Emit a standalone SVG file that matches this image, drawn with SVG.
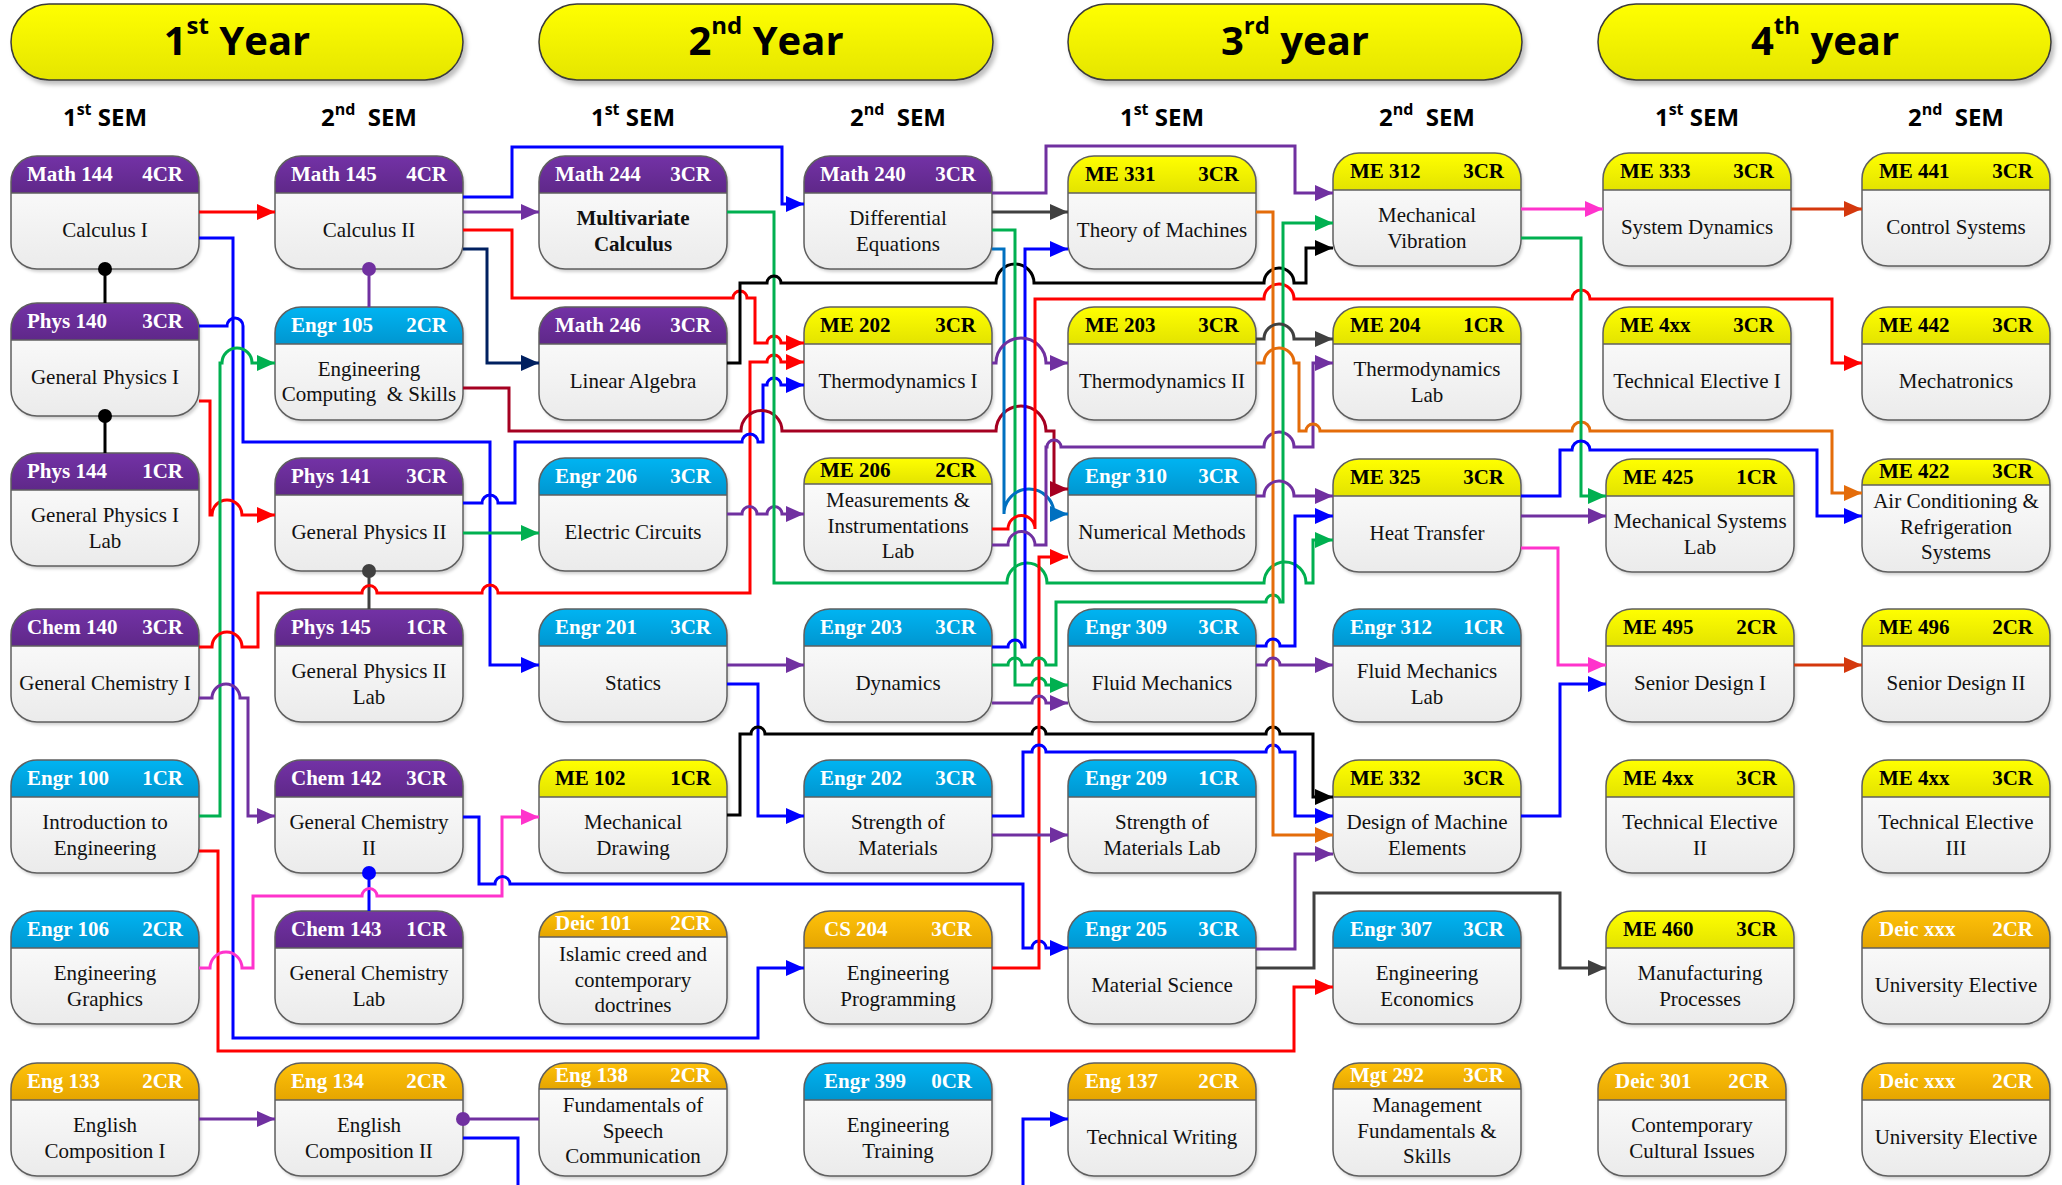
<svg xmlns="http://www.w3.org/2000/svg" xmlns:xlink="http://www.w3.org/1999/xlink" width="2062" height="1185" viewBox="0 0 2062 1185">
<defs>
<linearGradient id="gB" x1="0" y1="0" x2="0" y2="1"><stop offset="0" stop-color="#ffffff"/><stop offset="1" stop-color="#ebebeb"/></linearGradient>
<linearGradient id="gP" x1="0" y1="0" x2="0" y2="1"><stop offset="0" stop-color="#7332a6"/><stop offset="1" stop-color="#5f2889"/></linearGradient>
<linearGradient id="gC" x1="0" y1="0" x2="0" y2="1"><stop offset="0" stop-color="#00b4f2"/><stop offset="1" stop-color="#0096d0"/></linearGradient>
<linearGradient id="gY" x1="0" y1="0" x2="0" y2="1"><stop offset="0" stop-color="#ffff00"/><stop offset="1" stop-color="#e3e300"/></linearGradient>
<linearGradient id="gO" x1="0" y1="0" x2="0" y2="1"><stop offset="0" stop-color="#ffc20a"/><stop offset="1" stop-color="#e5a500"/></linearGradient>
<linearGradient id="gPill" x1="0" y1="0" x2="0" y2="1"><stop offset="0" stop-color="#ffff00"/><stop offset="1" stop-color="#e5e500"/></linearGradient>
<filter id="shP" x="-5%" y="-20%" width="110%" height="150%"><feDropShadow dx="3" dy="4" stdDeviation="2" flood-color="#000" flood-opacity="0.25"/></filter>
<filter id="shN" x="-10%" y="-10%" width="120%" height="130%"><feDropShadow dx="2" dy="3" stdDeviation="1.5" flood-color="#000" flood-opacity="0.18"/></filter>
<rect id="bx" width="188" height="113" rx="26"/>
<path id="hd" d="M0,37V26A26,26 0 0 1 26,0H162A26,26 0 0 1 188,26V37Z"/>
<path id="hs" d="M0,26A26,26 0 0 1 26,0H162A26,26 0 0 1 188,26Z"/>
<line id="sp" x1="0" y1="37" x2="188" y2="37"/>
<line id="ss" x1="0" y1="26" x2="188" y2="26"/>
<marker id="mR" viewBox="0 0 18 18" refX="18" refY="9" markerWidth="18" markerHeight="18" markerUnits="userSpaceOnUse" orient="auto"><path d="M0,1L18,9L0,17Z" fill="#ff0000"/></marker>
<marker id="mB" viewBox="0 0 18 18" refX="18" refY="9" markerWidth="18" markerHeight="18" markerUnits="userSpaceOnUse" orient="auto"><path d="M0,1L18,9L0,17Z" fill="#0000ff"/></marker>
<marker id="mP" viewBox="0 0 18 18" refX="18" refY="9" markerWidth="18" markerHeight="18" markerUnits="userSpaceOnUse" orient="auto"><path d="M0,1L18,9L0,17Z" fill="#7030a0"/></marker>
<marker id="mG" viewBox="0 0 18 18" refX="18" refY="9" markerWidth="18" markerHeight="18" markerUnits="userSpaceOnUse" orient="auto"><path d="M0,1L18,9L0,17Z" fill="#00b050"/></marker>
<marker id="mN" viewBox="0 0 18 18" refX="18" refY="9" markerWidth="18" markerHeight="18" markerUnits="userSpaceOnUse" orient="auto"><path d="M0,1L18,9L0,17Z" fill="#002060"/></marker>
<marker id="mCr" viewBox="0 0 18 18" refX="18" refY="9" markerWidth="18" markerHeight="18" markerUnits="userSpaceOnUse" orient="auto"><path d="M0,1L18,9L0,17Z" fill="#a50021"/></marker>
<marker id="mS" viewBox="0 0 18 18" refX="18" refY="9" markerWidth="18" markerHeight="18" markerUnits="userSpaceOnUse" orient="auto"><path d="M0,1L18,9L0,17Z" fill="#0070c0"/></marker>
<marker id="mO" viewBox="0 0 18 18" refX="18" refY="9" markerWidth="18" markerHeight="18" markerUnits="userSpaceOnUse" orient="auto"><path d="M0,1L18,9L0,17Z" fill="#e46c0a"/></marker>
<marker id="mK" viewBox="0 0 18 18" refX="18" refY="9" markerWidth="18" markerHeight="18" markerUnits="userSpaceOnUse" orient="auto"><path d="M0,1L18,9L0,17Z" fill="#ff33cc"/></marker>
<marker id="mRu" viewBox="0 0 18 18" refX="18" refY="9" markerWidth="18" markerHeight="18" markerUnits="userSpaceOnUse" orient="auto"><path d="M0,1L18,9L0,17Z" fill="#d4380d"/></marker>
<marker id="mBk" viewBox="0 0 18 18" refX="18" refY="9" markerWidth="18" markerHeight="18" markerUnits="userSpaceOnUse" orient="auto"><path d="M0,1L18,9L0,17Z" fill="#000000"/></marker>
<marker id="mGy" viewBox="0 0 18 18" refX="18" refY="9" markerWidth="18" markerHeight="18" markerUnits="userSpaceOnUse" orient="auto"><path d="M0,1L18,9L0,17Z" fill="#404040"/></marker>
</defs>
<style>
.box{fill:url(#gB);filter:url(#shN)}
.ol{fill:none;stroke:#5f5f5f;stroke-width:1.5}
.sep{stroke:#5f5f5f;stroke-width:1.5}
.hP{fill:url(#gP)}.hC{fill:url(#gC)}.hY{fill:url(#gY)}.hO{fill:url(#gO)}
.ht{font-family:"Liberation Serif","Times New Roman",serif;font-weight:bold;font-size:21px;fill:#ffffff}
.hk{fill:#000000}
.r{text-anchor:end}
.bt{font-family:"Liberation Serif","Times New Roman",serif;font-size:21px;fill:#111111;text-anchor:middle}
.bb{font-weight:bold}
.pill{fill:url(#gPill);stroke:#3a3a3a;stroke-width:1.5;filter:url(#shP)}
.yr{font-family:"Open Sans","Liberation Sans",sans-serif;font-weight:bold;font-size:40px;text-anchor:middle;fill:#000}
.ys{font-size:24px}
.sem{font-family:"Open Sans","Liberation Sans",sans-serif;font-weight:bold;font-size:24px;text-anchor:middle;fill:#000}
.smsup{font-size:16px}
.c path{fill:none;stroke-width:3}
.red{stroke:#ff0000}.blue{stroke:#0000ff}.pur{stroke:#7030a0}.grn{stroke:#00b050}.navy{stroke:#002060}.crim{stroke:#a50021}.steel{stroke:#0070c0}.org{stroke:#e46c0a}.pink{stroke:#ff33cc}.rust{stroke:#d4380d}.blk{stroke:#000000}.gray{stroke:#404040}
</style>
<rect width="2062" height="1185" fill="#ffffff"/>

<g id="year-headers">
<rect class="pill" x="11" y="4" width="452" height="76" rx="38"/>
<rect class="pill" x="539" y="4" width="454" height="76" rx="38"/>
<rect class="pill" x="1068" y="4" width="454" height="76" rx="38"/>
<rect class="pill" x="1598" y="4" width="453" height="76" rx="38"/>
<text class="yr" x="237" y="55">1<tspan class="ys" dy="-21">st</tspan><tspan dy="21"> Year</tspan></text>
<text class="yr" x="766" y="55">2<tspan class="ys" dy="-21">nd</tspan><tspan dy="21"> Year</tspan></text>
<text class="yr" x="1295" y="55">3<tspan class="ys" dy="-21">rd</tspan><tspan dy="21"> year</tspan></text>
<text class="yr" x="1825" y="55">4<tspan class="ys" dy="-21">th</tspan><tspan dy="21"> year</tspan></text>
</g>
<g id="sem-labels">
<text class="sem" x="105" y="126">1<tspan class="smsup" dy="-11">st</tspan><tspan dy="11"> SEM</tspan></text>
<text class="sem" x="369" y="126">2<tspan class="smsup" dy="-11">nd</tspan><tspan dy="11" dx="6"> SEM</tspan></text>
<text class="sem" x="633" y="126">1<tspan class="smsup" dy="-11">st</tspan><tspan dy="11"> SEM</tspan></text>
<text class="sem" x="898" y="126">2<tspan class="smsup" dy="-11">nd</tspan><tspan dy="11" dx="6"> SEM</tspan></text>
<text class="sem" x="1162" y="126">1<tspan class="smsup" dy="-11">st</tspan><tspan dy="11"> SEM</tspan></text>
<text class="sem" x="1427" y="126">2<tspan class="smsup" dy="-11">nd</tspan><tspan dy="11" dx="6"> SEM</tspan></text>
<text class="sem" x="1697" y="126">1<tspan class="smsup" dy="-11">st</tspan><tspan dy="11"> SEM</tspan></text>
<text class="sem" x="1956" y="126">2<tspan class="smsup" dy="-11">nd</tspan><tspan dy="11" dx="6"> SEM</tspan></text>
</g>

<g id="nodes">
<!-- column 1 -->
<g id="n-math144" transform="translate(11,156)"><use href="#bx" class="box"/><use href="#hd" class="hP"/><use href="#bx" class="ol"/><use href="#sp" class="sep"/><text class="ht" x="16" y="25">Math 144</text><text class="ht r" x="172" y="25">4CR</text><text class="bt" x="94" y="81">Calculus I</text></g>
<g id="n-phys140" transform="translate(11,303)"><use href="#bx" class="box"/><use href="#hd" class="hP"/><use href="#bx" class="ol"/><use href="#sp" class="sep"/><text class="ht" x="16" y="25">Phys 140</text><text class="ht r" x="172" y="25">3CR</text><text class="bt" x="94" y="81">General Physics I</text></g>
<g id="n-phys144" transform="translate(11,453)"><use href="#bx" class="box"/><use href="#hd" class="hP"/><use href="#bx" class="ol"/><use href="#sp" class="sep"/><text class="ht" x="16" y="25">Phys 144</text><text class="ht r" x="172" y="25">1CR</text><text class="bt" x="94" y="69">General Physics I</text><text class="bt" x="94" y="95">Lab</text></g>
<g id="n-chem140" transform="translate(11,609)"><use href="#bx" class="box"/><use href="#hd" class="hP"/><use href="#bx" class="ol"/><use href="#sp" class="sep"/><text class="ht" x="16" y="25">Chem 140</text><text class="ht r" x="172" y="25">3CR</text><text class="bt" x="94" y="81">General Chemistry I</text></g>
<g id="n-engr100" transform="translate(11,760)"><use href="#bx" class="box"/><use href="#hd" class="hC"/><use href="#bx" class="ol"/><use href="#sp" class="sep"/><text class="ht" x="16" y="25">Engr 100</text><text class="ht r" x="172" y="25">1CR</text><text class="bt" x="94" y="69">Introduction to</text><text class="bt" x="94" y="95">Engineering</text></g>
<g id="n-engr106" transform="translate(11,911)"><use href="#bx" class="box"/><use href="#hd" class="hC"/><use href="#bx" class="ol"/><use href="#sp" class="sep"/><text class="ht" x="16" y="25">Engr 106</text><text class="ht r" x="172" y="25">2CR</text><text class="bt" x="94" y="69">Engineering</text><text class="bt" x="94" y="95">Graphics</text></g>
<g id="n-eng133" transform="translate(11,1063)"><use href="#bx" class="box"/><use href="#hd" class="hO"/><use href="#bx" class="ol"/><use href="#sp" class="sep"/><text class="ht" x="16" y="25">Eng 133</text><text class="ht r" x="172" y="25">2CR</text><text class="bt" x="94" y="69">English</text><text class="bt" x="94" y="95">Composition I</text></g>
<!-- column 2 -->
<g id="n-math145" transform="translate(275,156)"><use href="#bx" class="box"/><use href="#hd" class="hP"/><use href="#bx" class="ol"/><use href="#sp" class="sep"/><text class="ht" x="16" y="25">Math 145</text><text class="ht r" x="172" y="25">4CR</text><text class="bt" x="94" y="81">Calculus II</text></g>
<g id="n-engr105" transform="translate(275,307)"><use href="#bx" class="box"/><use href="#hd" class="hC"/><use href="#bx" class="ol"/><use href="#sp" class="sep"/><text class="ht" x="16" y="25">Engr 105</text><text class="ht r" x="172" y="25">2CR</text><text class="bt" x="94" y="69">Engineering</text><text class="bt" x="94" y="94" xml:space="preserve">Computing  &amp; Skills</text></g>
<g id="n-phys141" transform="translate(275,458)"><use href="#bx" class="box"/><use href="#hd" class="hP"/><use href="#bx" class="ol"/><use href="#sp" class="sep"/><text class="ht" x="16" y="25">Phys 141</text><text class="ht r" x="172" y="25">3CR</text><text class="bt" x="94" y="81">General Physics II</text></g>
<g id="n-phys145" transform="translate(275,609)"><use href="#bx" class="box"/><use href="#hd" class="hP"/><use href="#bx" class="ol"/><use href="#sp" class="sep"/><text class="ht" x="16" y="25">Phys 145</text><text class="ht r" x="172" y="25">1CR</text><text class="bt" x="94" y="69">General Physics II</text><text class="bt" x="94" y="95">Lab</text></g>
<g id="n-chem142" transform="translate(275,760)"><use href="#bx" class="box"/><use href="#hd" class="hP"/><use href="#bx" class="ol"/><use href="#sp" class="sep"/><text class="ht" x="16" y="25">Chem 142</text><text class="ht r" x="172" y="25">3CR</text><text class="bt" x="94" y="69">General Chemistry</text><text class="bt" x="94" y="95">II</text></g>
<g id="n-chem143" transform="translate(275,911)"><use href="#bx" class="box"/><use href="#hd" class="hP"/><use href="#bx" class="ol"/><use href="#sp" class="sep"/><text class="ht" x="16" y="25">Chem 143</text><text class="ht r" x="172" y="25">1CR</text><text class="bt" x="94" y="69">General Chemistry</text><text class="bt" x="94" y="95">Lab</text></g>
<g id="n-eng134" transform="translate(275,1063)"><use href="#bx" class="box"/><use href="#hd" class="hO"/><use href="#bx" class="ol"/><use href="#sp" class="sep"/><text class="ht" x="16" y="25">Eng 134</text><text class="ht r" x="172" y="25">2CR</text><text class="bt" x="94" y="69">English</text><text class="bt" x="94" y="95">Composition II</text></g>
<!-- column 3 -->
<g id="n-math244" transform="translate(539,156)"><use href="#bx" class="box"/><use href="#hd" class="hP"/><use href="#bx" class="ol"/><use href="#sp" class="sep"/><text class="ht" x="16" y="25">Math 244</text><text class="ht r" x="172" y="25">3CR</text><text class="bt bb" x="94" y="69">Multivariate</text><text class="bt bb" x="94" y="95">Calculus</text></g>
<g id="n-math246" transform="translate(539,307)"><use href="#bx" class="box"/><use href="#hd" class="hP"/><use href="#bx" class="ol"/><use href="#sp" class="sep"/><text class="ht" x="16" y="25">Math 246</text><text class="ht r" x="172" y="25">3CR</text><text class="bt" x="94" y="81">Linear Algebra</text></g>
<g id="n-engr206" transform="translate(539,458)"><use href="#bx" class="box"/><use href="#hd" class="hC"/><use href="#bx" class="ol"/><use href="#sp" class="sep"/><text class="ht" x="16" y="25">Engr 206</text><text class="ht r" x="172" y="25">3CR</text><text class="bt" x="94" y="81">Electric Circuits</text></g>
<g id="n-engr201" transform="translate(539,609)"><use href="#bx" class="box"/><use href="#hd" class="hC"/><use href="#bx" class="ol"/><use href="#sp" class="sep"/><text class="ht" x="16" y="25">Engr 201</text><text class="ht r" x="172" y="25">3CR</text><text class="bt" x="94" y="81">Statics</text></g>
<g id="n-me102" transform="translate(539,760)"><use href="#bx" class="box"/><use href="#hd" class="hY"/><use href="#bx" class="ol"/><use href="#sp" class="sep"/><text class="ht hk" x="16" y="25">ME 102</text><text class="ht hk r" x="172" y="25">1CR</text><text class="bt" x="94" y="69">Mechanical</text><text class="bt" x="94" y="95">Drawing</text></g>
<g id="n-deic101" transform="translate(539,911)"><use href="#bx" class="box"/><use href="#hs" class="hO"/><use href="#bx" class="ol"/><use href="#ss" class="sep"/><text class="ht" x="16" y="19">Deic 101</text><text class="ht r" x="172" y="19">2CR</text><text class="bt" x="94" y="50">Islamic creed and</text><text class="bt" x="94" y="76">contemporary</text><text class="bt" x="94" y="101">doctrines</text></g>
<g id="n-eng138" transform="translate(539,1063)"><use href="#bx" class="box"/><use href="#hs" class="hO"/><use href="#bx" class="ol"/><use href="#ss" class="sep"/><text class="ht" x="16" y="19">Eng 138</text><text class="ht r" x="172" y="19">2CR</text><text class="bt" x="94" y="49">Fundamentals of</text><text class="bt" x="94" y="75">Speech</text><text class="bt" x="94" y="100">Communication</text></g>
<!-- column 4 -->
<g id="n-math240" transform="translate(804,156)"><use href="#bx" class="box"/><use href="#hd" class="hP"/><use href="#bx" class="ol"/><use href="#sp" class="sep"/><text class="ht" x="16" y="25">Math 240</text><text class="ht r" x="172" y="25">3CR</text><text class="bt" x="94" y="69">Differential</text><text class="bt" x="94" y="95">Equations</text></g>
<g id="n-me202" transform="translate(804,307)"><use href="#bx" class="box"/><use href="#hd" class="hY"/><use href="#bx" class="ol"/><use href="#sp" class="sep"/><text class="ht hk" x="16" y="25">ME 202</text><text class="ht hk r" x="172" y="25">3CR</text><text class="bt" x="94" y="81">Thermodynamics I</text></g>
<g id="n-me206" transform="translate(804,458)"><use href="#bx" class="box"/><use href="#hs" class="hY"/><use href="#bx" class="ol"/><use href="#ss" class="sep"/><text class="ht hk" x="16" y="19">ME 206</text><text class="ht hk r" x="172" y="19">2CR</text><text class="bt" x="94" y="49">Measurements &amp;</text><text class="bt" x="94" y="75">Instrumentations</text><text class="bt" x="94" y="100">Lab</text></g>
<g id="n-engr203" transform="translate(804,609)"><use href="#bx" class="box"/><use href="#hd" class="hC"/><use href="#bx" class="ol"/><use href="#sp" class="sep"/><text class="ht" x="16" y="25">Engr 203</text><text class="ht r" x="172" y="25">3CR</text><text class="bt" x="94" y="81">Dynamics</text></g>
<g id="n-engr202" transform="translate(804,760)"><use href="#bx" class="box"/><use href="#hd" class="hC"/><use href="#bx" class="ol"/><use href="#sp" class="sep"/><text class="ht" x="16" y="25">Engr 202</text><text class="ht r" x="172" y="25">3CR</text><text class="bt" x="94" y="69">Strength of</text><text class="bt" x="94" y="95">Materials</text></g>
<g id="n-cs204" transform="translate(804,911)"><use href="#bx" class="box"/><use href="#hd" class="hO"/><use href="#bx" class="ol"/><use href="#sp" class="sep"/><text class="ht" x="20" y="25">CS 204</text><text class="ht r" x="168" y="25">3CR</text><text class="bt" x="94" y="69">Engineering</text><text class="bt" x="94" y="95">Programming</text></g>
<g id="n-engr399" transform="translate(804,1063)"><use href="#bx" class="box"/><use href="#hd" class="hC"/><use href="#bx" class="ol"/><use href="#sp" class="sep"/><text class="ht" x="20" y="25">Engr 399</text><text class="ht r" x="168" y="25">0CR</text><text class="bt" x="94" y="69">Engineering</text><text class="bt" x="94" y="95">Training</text></g>
<!-- column 5 -->
<g id="n-me331" transform="translate(1068,156)"><use href="#bx" class="box"/><use href="#hd" class="hY"/><use href="#bx" class="ol"/><use href="#sp" class="sep"/><text class="ht hk" x="17" y="25">ME 331</text><text class="ht hk r" x="171" y="25">3CR</text><text class="bt" x="94" y="81">Theory of Machines</text></g>
<g id="n-me203" transform="translate(1068,307)"><use href="#bx" class="box"/><use href="#hd" class="hY"/><use href="#bx" class="ol"/><use href="#sp" class="sep"/><text class="ht hk" x="17" y="25">ME 203</text><text class="ht hk r" x="171" y="25">3CR</text><text class="bt" x="94" y="81">Thermodynamics II</text></g>
<g id="n-engr310" transform="translate(1068,458)"><use href="#bx" class="box"/><use href="#hd" class="hC"/><use href="#bx" class="ol"/><use href="#sp" class="sep"/><text class="ht" x="17" y="25">Engr 310</text><text class="ht r" x="171" y="25">3CR</text><text class="bt" x="94" y="81">Numerical Methods</text></g>
<g id="n-engr309" transform="translate(1068,609)"><use href="#bx" class="box"/><use href="#hd" class="hC"/><use href="#bx" class="ol"/><use href="#sp" class="sep"/><text class="ht" x="17" y="25">Engr 309</text><text class="ht r" x="171" y="25">3CR</text><text class="bt" x="94" y="81">Fluid Mechanics</text></g>
<g id="n-engr209" transform="translate(1068,760)"><use href="#bx" class="box"/><use href="#hd" class="hC"/><use href="#bx" class="ol"/><use href="#sp" class="sep"/><text class="ht" x="17" y="25">Engr 209</text><text class="ht r" x="171" y="25">1CR</text><text class="bt" x="94" y="69">Strength of</text><text class="bt" x="94" y="95">Materials Lab</text></g>
<g id="n-engr205" transform="translate(1068,911)"><use href="#bx" class="box"/><use href="#hd" class="hC"/><use href="#bx" class="ol"/><use href="#sp" class="sep"/><text class="ht" x="17" y="25">Engr 205</text><text class="ht r" x="171" y="25">3CR</text><text class="bt" x="94" y="81">Material Science</text></g>
<g id="n-eng137" transform="translate(1068,1063)"><use href="#bx" class="box"/><use href="#hd" class="hO"/><use href="#bx" class="ol"/><use href="#sp" class="sep"/><text class="ht" x="17" y="25">Eng 137</text><text class="ht r" x="171" y="25">2CR</text><text class="bt" x="94" y="81">Technical Writing</text></g>
<!-- column 6 -->
<g id="n-me312" transform="translate(1333,153)"><use href="#bx" class="box"/><use href="#hd" class="hY"/><use href="#bx" class="ol"/><use href="#sp" class="sep"/><text class="ht hk" x="17" y="25">ME 312</text><text class="ht hk r" x="171" y="25">3CR</text><text class="bt" x="94" y="69">Mechanical</text><text class="bt" x="94" y="95">Vibration</text></g>
<g id="n-me204" transform="translate(1333,307)"><use href="#bx" class="box"/><use href="#hd" class="hY"/><use href="#bx" class="ol"/><use href="#sp" class="sep"/><text class="ht hk" x="17" y="25">ME 204</text><text class="ht hk r" x="171" y="25">1CR</text><text class="bt" x="94" y="69">Thermodynamics</text><text class="bt" x="94" y="95">Lab</text></g>
<g id="n-me325" transform="translate(1333,459)"><use href="#bx" class="box"/><use href="#hd" class="hY"/><use href="#bx" class="ol"/><use href="#sp" class="sep"/><text class="ht hk" x="17" y="25">ME 325</text><text class="ht hk r" x="171" y="25">3CR</text><text class="bt" x="94" y="81">Heat Transfer</text></g>
<g id="n-engr312" transform="translate(1333,609)"><use href="#bx" class="box"/><use href="#hd" class="hC"/><use href="#bx" class="ol"/><use href="#sp" class="sep"/><text class="ht" x="17" y="25">Engr 312</text><text class="ht r" x="171" y="25">1CR</text><text class="bt" x="94" y="69">Fluid Mechanics</text><text class="bt" x="94" y="95">Lab</text></g>
<g id="n-me332" transform="translate(1333,760)"><use href="#bx" class="box"/><use href="#hd" class="hY"/><use href="#bx" class="ol"/><use href="#sp" class="sep"/><text class="ht hk" x="17" y="25">ME 332</text><text class="ht hk r" x="171" y="25">3CR</text><text class="bt" x="94" y="69">Design of Machine</text><text class="bt" x="94" y="95">Elements</text></g>
<g id="n-engr307" transform="translate(1333,911)"><use href="#bx" class="box"/><use href="#hd" class="hC"/><use href="#bx" class="ol"/><use href="#sp" class="sep"/><text class="ht" x="17" y="25">Engr 307</text><text class="ht r" x="171" y="25">3CR</text><text class="bt" x="94" y="69">Engineering</text><text class="bt" x="94" y="95">Economics</text></g>
<g id="n-mgt292" transform="translate(1333,1063)"><use href="#bx" class="box"/><use href="#hs" class="hO"/><use href="#bx" class="ol"/><use href="#ss" class="sep"/><text class="ht" x="17" y="19">Mgt 292</text><text class="ht r" x="171" y="19">3CR</text><text class="bt" x="94" y="49">Management</text><text class="bt" x="94" y="75">Fundamentals &amp;</text><text class="bt" x="94" y="100">Skills</text></g>
<!-- column 7 -->
<g id="n-me333" transform="translate(1603,153)"><use href="#bx" class="box"/><use href="#hd" class="hY"/><use href="#bx" class="ol"/><use href="#sp" class="sep"/><text class="ht hk" x="17" y="25">ME 333</text><text class="ht hk r" x="171" y="25">3CR</text><text class="bt" x="94" y="81">System Dynamics</text></g>
<g id="n-me4xx-1" transform="translate(1603,307)"><use href="#bx" class="box"/><use href="#hd" class="hY"/><use href="#bx" class="ol"/><use href="#sp" class="sep"/><text class="ht hk" x="17" y="25">ME 4xx</text><text class="ht hk r" x="171" y="25">3CR</text><text class="bt" x="94" y="81">Technical Elective I</text></g>
<g id="n-me425" transform="translate(1606,459)"><use href="#bx" class="box"/><use href="#hd" class="hY"/><use href="#bx" class="ol"/><use href="#sp" class="sep"/><text class="ht hk" x="17" y="25">ME 425</text><text class="ht hk r" x="171" y="25">1CR</text><text class="bt" x="94" y="69">Mechanical Systems</text><text class="bt" x="94" y="95">Lab</text></g>
<g id="n-me495" transform="translate(1606,609)"><use href="#bx" class="box"/><use href="#hd" class="hY"/><use href="#bx" class="ol"/><use href="#sp" class="sep"/><text class="ht hk" x="17" y="25">ME 495</text><text class="ht hk r" x="171" y="25">2CR</text><text class="bt" x="94" y="81">Senior Design I</text></g>
<g id="n-me4xx-2" transform="translate(1606,760)"><use href="#bx" class="box"/><use href="#hd" class="hY"/><use href="#bx" class="ol"/><use href="#sp" class="sep"/><text class="ht hk" x="17" y="25">ME 4xx</text><text class="ht hk r" x="171" y="25">3CR</text><text class="bt" x="94" y="69">Technical Elective</text><text class="bt" x="94" y="95">II</text></g>
<g id="n-me460" transform="translate(1606,911)"><use href="#bx" class="box"/><use href="#hd" class="hY"/><use href="#bx" class="ol"/><use href="#sp" class="sep"/><text class="ht hk" x="17" y="25">ME 460</text><text class="ht hk r" x="171" y="25">3CR</text><text class="bt" x="94" y="69">Manufacturing</text><text class="bt" x="94" y="95">Processes</text></g>
<g id="n-deic301" transform="translate(1598,1063)"><use href="#bx" class="box"/><use href="#hd" class="hO"/><use href="#bx" class="ol"/><use href="#sp" class="sep"/><text class="ht" x="17" y="25">Deic 301</text><text class="ht r" x="171" y="25">2CR</text><text class="bt" x="94" y="69">Contemporary</text><text class="bt" x="94" y="95">Cultural Issues</text></g>
<!-- column 8 -->
<g id="n-me441" transform="translate(1862,153)"><use href="#bx" class="box"/><use href="#hd" class="hY"/><use href="#bx" class="ol"/><use href="#sp" class="sep"/><text class="ht hk" x="17" y="25">ME 441</text><text class="ht hk r" x="171" y="25">3CR</text><text class="bt" x="94" y="81">Control Systems</text></g>
<g id="n-me442" transform="translate(1862,307)"><use href="#bx" class="box"/><use href="#hd" class="hY"/><use href="#bx" class="ol"/><use href="#sp" class="sep"/><text class="ht hk" x="17" y="25">ME 442</text><text class="ht hk r" x="171" y="25">3CR</text><text class="bt" x="94" y="81">Mechatronics</text></g>
<g id="n-me422" transform="translate(1862,459)"><use href="#bx" class="box"/><use href="#hs" class="hY"/><use href="#bx" class="ol"/><use href="#ss" class="sep"/><text class="ht hk" x="17" y="19">ME 422</text><text class="ht hk r" x="171" y="19">3CR</text><text class="bt" x="94" y="49">Air Conditioning &amp;</text><text class="bt" x="94" y="75">Refrigeration</text><text class="bt" x="94" y="100">Systems</text></g>
<g id="n-me496" transform="translate(1862,609)"><use href="#bx" class="box"/><use href="#hd" class="hY"/><use href="#bx" class="ol"/><use href="#sp" class="sep"/><text class="ht hk" x="17" y="25">ME 496</text><text class="ht hk r" x="171" y="25">2CR</text><text class="bt" x="94" y="81">Senior Design II</text></g>
<g id="n-me4xx-3" transform="translate(1862,760)"><use href="#bx" class="box"/><use href="#hd" class="hY"/><use href="#bx" class="ol"/><use href="#sp" class="sep"/><text class="ht hk" x="17" y="25">ME 4xx</text><text class="ht hk r" x="171" y="25">3CR</text><text class="bt" x="94" y="69">Technical Elective</text><text class="bt" x="94" y="95">III</text></g>
<g id="n-deicxxx-1" transform="translate(1862,911)"><use href="#bx" class="box"/><use href="#hd" class="hO"/><use href="#bx" class="ol"/><use href="#sp" class="sep"/><text class="ht" x="17" y="25">Deic xxx</text><text class="ht r" x="171" y="25">2CR</text><text class="bt" x="94" y="81">University Elective</text></g>
<g id="n-deicxxx-2" transform="translate(1862,1063)"><use href="#bx" class="box"/><use href="#hd" class="hO"/><use href="#bx" class="ol"/><use href="#sp" class="sep"/><text class="ht" x="17" y="25">Deic xxx</text><text class="ht r" x="171" y="25">2CR</text><text class="bt" x="94" y="81">University Elective</text></g>
</g>

<g id="connectors" class="c">
<!-- corequisite links -->
<path class="blk" d="M105,269V303"/><circle cx="105" cy="269" r="7" fill="#000"/>
<path class="blk" d="M105,416V453"/><circle cx="105" cy="416" r="7" fill="#000"/>
<path class="pur" d="M369,269V307"/><circle cx="369" cy="269" r="7" fill="#7030a0"/>
<path class="gray" d="M369,571V609"/><circle cx="369" cy="571" r="7" fill="#404040"/>
<path class="blue" d="M369,873V911"/><circle cx="369" cy="873" r="7" fill="#0000ff"/>
<path class="pur" d="M463,1119H539"/><circle cx="463" cy="1119" r="7" fill="#7030a0"/>
<!-- year 1 sources -->
<path class="red" marker-end="url(#mR)" d="M199,212H275"/>
<path class="blue" marker-end="url(#mB)" d="M199,238H233V1038H758V968H804"/>
<path class="blue" marker-end="url(#mB)" d="M199,326H227A8,8 0 0 1 243,326V442H490V665H539"/>
<path class="red" marker-end="url(#mR)" d="M199,401H210V515H212A15,15 0 0 1 242,515H275"/>
<path class="grn" marker-end="url(#mG)" d="M199,816H220V363H222A15,15 0 0 1 252,363H275"/>
<path class="pur" marker-end="url(#mP)" d="M199,698H212A14,14 0 0 1 240,698H248V816H275"/>
<path class="red" marker-end="url(#mR)" d="M199,647H212A15,15 0 0 1 242,647H258V593H362A7.5,7.5 0 0 1 377,593H482A8,8 0 0 1 498,593H750V362H767A7,7 0 0 1 781,362H804"/>
<path class="red" marker-end="url(#mR)" d="M199,851H218V1051H1294V987H1333"/>
<path class="pink" marker-end="url(#mK)" d="M199,968H210A16,16 0 0 1 242,968H253V896H362A7.5,7.5 0 0 1 377,896H502V817H539"/>
<path class="pur" marker-end="url(#mP)" d="M199,1119H275"/>
<path class="blue" marker-end="url(#mB)" d="M463,817H479V884H495A7.5,7.5 0 0 1 510,884H1023V948H1032A7,7 0 0 1 1046,948H1068"/>
<path class="blue" marker-end="url(#mB)" d="M463,1138H518V1195H1023V1119H1068"/>
<path class="blue" marker-end="url(#mB)" d="M463,197H512V147H782V204H804"/>
<path class="pur" marker-end="url(#mP)" d="M463,212H539"/>
<path class="red" marker-end="url(#mR)" d="M463,230H512V298H733A7,7 0 0 1 747,298H755V343H767A7,7 0 0 1 781,343H804"/>
<path class="navy" marker-end="url(#mN)" d="M463,249H487V363H539"/>
<path class="blue" marker-end="url(#mB)" d="M463,503H482A8,8 0 0 1 498,503H515V442H742A8,8 0 0 1 758,442H763V385H767A7,7 0 0 1 781,385H804"/>
<path class="grn" marker-end="url(#mG)" d="M463,533H539"/>
<path class="crim" marker-end="url(#mCr)" d="M463,388H509V431H741A20.5,20.5 0 0 1 782,431H996A25,25 0 0 1 1046,431H1054V489H1068"/>
<!-- year 2 sources -->
<path class="pur" marker-end="url(#mP)" d="M727,514H742A7.5,7.5 0 0 1 757,514H767A7.5,7.5 0 0 1 782,514H804"/>
<path class="pur" marker-end="url(#mP)" d="M727,665H804"/>
<path class="blue" marker-end="url(#mB)" d="M727,684H758V816H804"/>
<path class="grn" marker-end="url(#mG)" d="M727,212H774V583H1007A20,20 0 0 1 1047,583H1264A21,21 0 0 1 1306,583H1313V540H1333"/>
<path class="blk" marker-end="url(#mBk)" d="M727,363H740V283H767A7,7 0 0 1 781,283H996A19,19 0 0 1 1034,283H1264A15,15 0 0 1 1294,283H1306V248H1333"/>
<path class="blk" marker-end="url(#mBk)" d="M727,815H740V734H751A7,7 0 0 1 765,734H1032A7,7 0 0 1 1046,734H1266A7,7 0 0 1 1280,734H1313V797H1333"/>
<path class="pur" marker-end="url(#mP)" d="M992,193H1046V146H1295V193H1333"/>
<path class="gray" marker-end="url(#mGy)" d="M992,212H1068"/>
<path class="grn" marker-end="url(#mG)" d="M992,230H1015V685H1032A7,7 0 0 1 1046,685H1068"/>
<path class="steel" marker-end="url(#mS)" d="M992,249H1004V514A25,25 0 0 1 1054,514H1068"/>
<path class="blue" marker-end="url(#mB)" d="M992,647H1008A7,7 0 0 1 1022,647H1025V249H1068"/>
<path class="pur" marker-end="url(#mP)" d="M992,363H996A25,25 0 0 1 1046,363H1068"/>
<path class="red" marker-end="url(#mR)" d="M992,529H1008A13.5,13.5 0 0 1 1035,529V299H1264A15,15 0 0 1 1294,299H1572A9,9 0 0 1 1590,299H1832V363H1862"/>
<path class="pur" marker-end="url(#mP)" d="M992,545H1008A13.5,13.5 0 0 1 1035,545H1046V447H1047A7,7 0 0 1 1061,447H1264A15,15 0 0 1 1294,447H1313V363H1333"/>
<path class="red" marker-end="url(#mR)" d="M992,968H1039V557H1068"/>
<path class="grn" marker-end="url(#mG)" d="M992,665H1008A7,7 0 0 1 1022,665H1032A7,7 0 0 1 1046,665H1056V602H1266A7,7 0 0 1 1280,602H1283V223H1333"/>
<path class="pur" marker-end="url(#mP)" d="M992,703H1032A7,7 0 0 1 1046,703H1068"/>
<path class="blue" marker-end="url(#mB)" d="M992,816H1023V752H1032A7,7 0 0 1 1046,752H1266A7,7 0 0 1 1280,752H1295V816H1333"/>
<path class="pur" marker-end="url(#mP)" d="M992,835H1068"/>
<!-- year 3 sources -->
<path class="pur" marker-end="url(#mP)" d="M1256,949H1295V854H1333"/>
<path class="gray" marker-end="url(#mGy)" d="M1256,968H1314V893H1560V968H1606"/>
<path class="org" marker-end="url(#mO)" d="M1256,212H1273V835H1333"/>
<path class="gray" marker-end="url(#mGy)" d="M1256,339H1264A15,15 0 0 1 1294,339H1333"/>
<path class="org" marker-end="url(#mO)" d="M1256,363H1264A15,15 0 0 1 1294,363H1299V431H1306A7,7 0 0 1 1320,431H1572A9,9 0 0 1 1590,431H1832V493H1862"/>
<path class="pur" marker-end="url(#mP)" d="M1256,496H1264A15,15 0 0 1 1294,496H1333"/>
<path class="blue" marker-end="url(#mB)" d="M1256,646H1266A7,7 0 0 1 1280,646H1295V516H1333"/>
<path class="pur" marker-end="url(#mP)" d="M1256,665H1266A7,7 0 0 1 1280,665H1333"/>
<path class="pink" marker-end="url(#mK)" d="M1521,209H1603"/>
<path class="grn" marker-end="url(#mG)" d="M1521,238H1581V496H1606"/>
<path class="blue" marker-end="url(#mB)" d="M1521,496H1560V450H1572A9,9 0 0 1 1590,450H1817V516H1862"/>
<path class="pur" marker-end="url(#mP)" d="M1521,516H1606"/>
<path class="pink" marker-end="url(#mK)" d="M1521,548H1558V665H1606"/>
<path class="blue" marker-end="url(#mB)" d="M1521,816H1560V684H1606"/>
<!-- year 4 -->
<path class="rust" marker-end="url(#mRu)" d="M1791,209H1862"/>
<path class="rust" marker-end="url(#mRu)" d="M1794,665H1862"/>
</g>
</svg>
